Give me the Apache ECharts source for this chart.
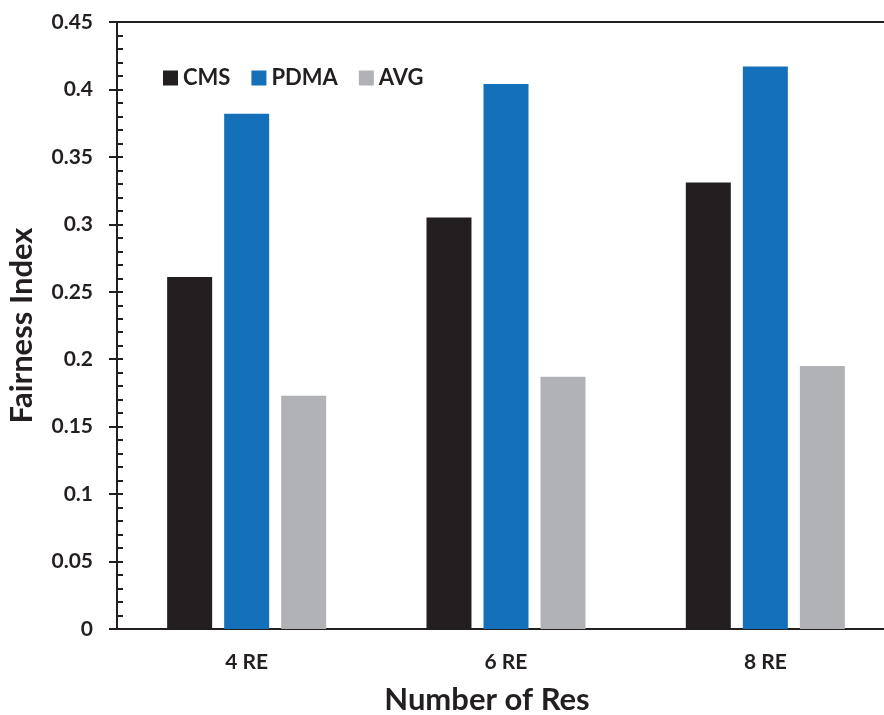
<!DOCTYPE html>
<html><head><meta charset="utf-8">
<script src="https://cdn.jsdelivr.net/npm/echarts@6/dist/echarts.min.js"></script>
<style>html,body{margin:0;padding:0;background:#fff}#c{width:884px;height:715px}</style>
</head><body><div id="c"></div>
<script>
const categories = ['4 RE', '6 RE', '8 RE'];
const cms = [0.261, 0.305, 0.331];
const pdma = [0.382, 0.404, 0.417];
const avg = [0.173, 0.187, 0.195];
const yTicks = [0, 0.05, 0.1, 0.15, 0.2, 0.25, 0.3, 0.35, 0.4, 0.45];

const FONT = 'Lato';
const INK = '#231f20';
const chart = echarts.init(document.getElementById('c'), null, {renderer: 'canvas'});
chart.setOption({
  animation: false,
  backgroundColor: '#fff',
  textStyle: {fontFamily: FONT},
  grid: {left: 117, top: 22, right: -11, bottom: 86, outerBoundsMode: 'none', containLabel: false,
         show: true, borderColor: INK, borderWidth: 2, backgroundColor: 'transparent'},
  legend: {
    left: 158, top: 62, itemWidth: 15, itemHeight: 15, itemGap: 21,
    icon: 'rect',
    textStyle: {fontFamily: FONT, fontWeight: 'bold', fontSize: 22, color: INK},
    data: ['CMS', 'PDMA', 'AVG']
  },
  xAxis: {
    type: 'category', data: categories,
    axisLine: {lineStyle: {color: INK, width: 2}},
    axisTick: {show: false},
    axisLabel: {margin: 23, fontFamily: FONT, fontWeight: 'bold', fontSize: 21, color: INK},
    name: 'Number of Res', nameLocation: 'middle', nameGap: 55,
    nameTextStyle: {fontFamily: FONT, fontWeight: 'bold', fontSize: 31, color: INK, padding: [0, 38, 0, 0]}
  },
  yAxis: [{
    type: 'value', min: yTicks[0], max: yTicks[yTicks.length - 1], interval: 0.05,
    axisLine: {show: true, lineStyle: {color: INK, width: 2}},
    axisTick: {show: true, inside: false, length: 8, lineStyle: {color: INK, width: 2}},
    splitLine: {show: false},
    axisLabel: {margin: 24, fontFamily: FONT, fontWeight: 'bold', fontSize: 21, color: INK},
    name: 'Fairness Index', nameLocation: 'middle', nameGap: 80, nameRotate: 90,
    nameTextStyle: {fontFamily: FONT, fontWeight: 'bold', fontSize: 31, color: INK}
  }, {
    type: 'value', min: 0, max: 0.45, interval: 0.01, position: 'left',
    axisLine: {show: false},
    axisTick: {show: true, inside: true, length: 6, lineStyle: {color: INK, width: 2}},
    splitLine: {show: false},
    axisLabel: {show: false}
  }],
  series: [
    {name: 'CMS', type: 'bar', data: cms, barWidth: 45, barGap: '26.7%', itemStyle: {color: INK}},
    {name: 'PDMA', type: 'bar', data: pdma, barWidth: 45, barGap: '26.7%', itemStyle: {color: '#1470b8'}},
    {name: 'AVG', type: 'bar', data: avg, barWidth: 45, barGap: '26.7%', itemStyle: {color: '#b1b2b6'}}
  ]
});
</script></body></html>
